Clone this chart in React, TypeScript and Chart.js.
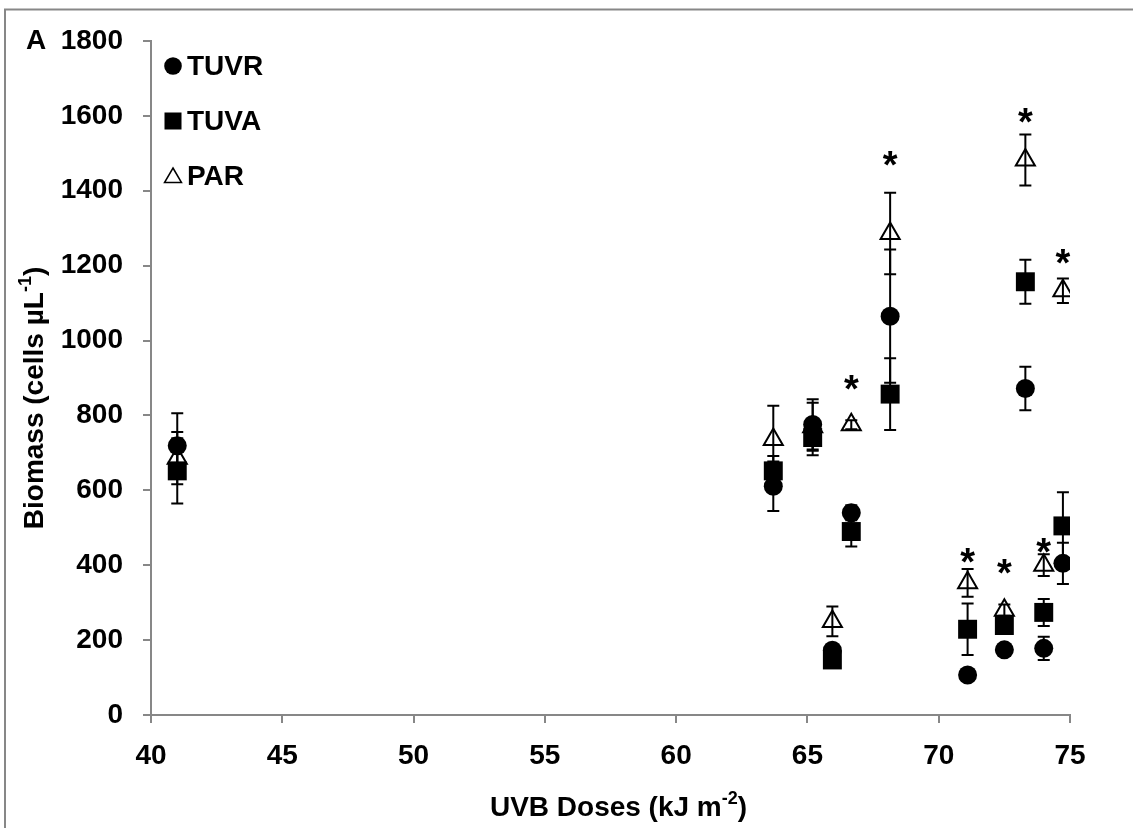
import React, { useEffect, useRef } from "react";
import { Chart, registerables } from "chart.js";

Chart.register(...registerables);

// UVB doses (kJ m-2)
const doses = [41.0, 63.7, 65.2, 65.95, 66.67, 68.15, 71.1, 72.5, 73.3, 74.0, 74.73];
// Biomass (cells µL-1)
const tuvr = [719, 611, 776, 173, 540, 1065, 107, 174, 872, 178, 405];
const tuvrErr = [87, 66, 67, 12, 20, 178, 8, 10, 58, 31, 55];
const tuva = [652, 652, 741, 147, 490, 857, 229, 239, 1157, 274, 505];
const tuvaErr = [87, 40, 47, 15, 40, 96, 69, 15, 59, 36, 90];
const par = [686, 736, 770, 250, 775, 1286, 353, 280, 1482, 400, 1133];
const parErr = [70, 90, 64, 40, 12, 109, 37, 15, 68, 29, 33];
// significance marks
const starDoses = [66.67, 68.15, 71.1, 72.5, 73.3, 74.0, 74.73];
const starLevels = [894, 1491, 432, 403, 1607, 458, 1231];

const seriesNames = ["TUVR", "TUVA", "PAR"];
const xTitle = ["UVB Doses (kJ m", "-2", ")"];
const yTitle = ["Biomass (cells µL", "-1", ")"];
const panelLabel = "A";

const FONT = '"Liberation Sans", Arial, sans-serif';
const AXIS_GRAY = "#878787";

function drawRich(ctx: CanvasRenderingContext2D, parts: string[], cx: number, cy: number) {
  const main = `bold 28px ${FONT}`;
  const sup = `bold 18px ${FONT}`;
  ctx.font = main;
  const w0 = ctx.measureText(parts[0]).width;
  const w2 = ctx.measureText(parts[2]).width;
  ctx.font = sup;
  const w1 = ctx.measureText(parts[1]).width;
  const total = w0 + w1 + w2;
  let x = cx - total / 2;
  ctx.textAlign = "left";
  ctx.textBaseline = "middle";
  ctx.fillStyle = "#000";
  ctx.font = main;
  ctx.fillText(parts[0], x, cy);
  x += w0;
  ctx.font = sup;
  ctx.fillText(parts[1], x, cy - 9);
  x += w1;
  ctx.font = main;
  ctx.fillText(parts[2], x, cy);
}

export default function App() {
  const ref = useRef<HTMLCanvasElement>(null);

  useEffect(() => {
    if (!ref.current) return;

    const errPlugin = {
      id: "errbars",
      afterDatasetsDraw(chart: any) {
        const ctx = chart.ctx as CanvasRenderingContext2D;
        const xs = chart.scales.x;
        const ys = chart.scales.y;
        ctx.save();
        ctx.strokeStyle = "#000";
        ctx.lineWidth = 2;
        const series: [number[], number[]][] = [
          [par, parErr],
          [tuva, tuvaErr],
          [tuvr, tuvrErr],
        ];
        for (const [vals, errs] of series) {
          for (let i = 0; i < doses.length; i++) {
            if (!errs[i]) continue;
            const x = xs.getPixelForValue(doses[i]);
            const yt = ys.getPixelForValue(vals[i] + errs[i]);
            const yb = ys.getPixelForValue(vals[i] - errs[i]);
            ctx.beginPath();
            ctx.moveTo(x, yt);
            ctx.lineTo(x, yb);
            ctx.moveTo(x - 6, yt);
            ctx.lineTo(x + 6, yt);
            ctx.moveTo(x - 6, yb);
            ctx.lineTo(x + 6, yb);
            ctx.stroke();
          }
        }
        ctx.restore();
      },
    };

    const decoPlugin = {
      id: "deco",
      afterDraw(chart: any) {
        const ctx = chart.ctx as CanvasRenderingContext2D;
        const xs = chart.scales.x;
        const ys = chart.scales.y;
        ctx.save();
        // outer frame
        ctx.strokeStyle = AXIS_GRAY;
        ctx.lineWidth = 2;
        ctx.beginPath();
        ctx.moveTo(5, 828);
        ctx.lineTo(5, 9.5);
        ctx.lineTo(1133, 9.5);
        ctx.stroke();

        // stars
        ctx.fillStyle = "#000";
        const sf = 38;
        ctx.font = `bold ${sf}px ${FONT}`;
        ctx.textAlign = "center";
        ctx.textBaseline = "alphabetic";
        for (let i = 0; i < starDoses.length; i++) {
          const x = xs.getPixelForValue(starDoses[i]);
          const y = ys.getPixelForValue(starLevels[i]);
          ctx.fillText("*", x, y + 0.57 * sf);
        }

        // panel label
        ctx.font = `bold 28px ${FONT}`;
        ctx.textAlign = "left";
        ctx.fillText(panelLabel, 26, 49);

        // legend
        const lx = 173;
        const rows = [66, 121, 176];
        ctx.fillStyle = "#000";
        ctx.beginPath();
        ctx.arc(lx, rows[0], 8.8, 0, Math.PI * 2);
        ctx.fill();
        ctx.fillRect(lx - 8.5, rows[1] - 8.5, 17, 17);
        ctx.beginPath();
        ctx.moveTo(lx, rows[2] - 8);
        ctx.lineTo(lx + 8.5, rows[2] + 6.5);
        ctx.lineTo(lx - 8.5, rows[2] + 6.5);
        ctx.closePath();
        ctx.fillStyle = "#fff";
        ctx.fill();
        ctx.strokeStyle = "#000";
        ctx.lineWidth = 1.5;
        ctx.stroke();
        ctx.fillStyle = "#000";
        ctx.font = `bold 28px ${FONT}`;
        ctx.textBaseline = "middle";
        for (let i = 0; i < seriesNames.length; i++) {
          ctx.fillText(seriesNames[i], 187, rows[i] + 1);
        }

        // axis titles
        drawRich(ctx, xTitle, (xs.left + xs.right) / 2 + 8, 808);
        ctx.save();
        ctx.translate(35, 398);
        ctx.rotate(-Math.PI / 2);
        drawRich(ctx, yTitle, 0, 0);
        ctx.restore();

        ctx.restore();
      },
    };

    const tickFont = { family: FONT, size: 28, weight: "bold" as const };
    const plain = (v: any) => String(v);

    const chart = new Chart(ref.current, {
      type: "scatter",
      data: {
        datasets: [
          {
            label: seriesNames[0],
            data: doses.map((d, i) => ({ x: d, y: tuvr[i] })),
            pointStyle: "circle",
            pointRadius: 9.5,
            backgroundColor: "#000",
            borderColor: "#000",
            borderWidth: 0,
          },
          {
            label: seriesNames[1],
            data: doses.map((d, i) => ({ x: d, y: tuva[i] })),
            pointStyle: "rect",
            pointRadius: 13.4,
            backgroundColor: "#000",
            borderColor: "#000",
            borderWidth: 0,
          },
          {
            label: seriesNames[2],
            data: doses.map((d, i) => ({ x: d, y: par[i] })),
            pointStyle: "triangle",
            pointRadius: 11,
            backgroundColor: "#fff",
            borderColor: "#000",
            borderWidth: 2,
          },
        ],
      },
      options: {
        animation: false,
        responsive: false,
        maintainAspectRatio: false,
        layout: { padding: { left: 0, top: 41, right: 63, bottom: 0 } },
        plugins: {
          legend: { display: false },
          tooltip: { enabled: false },
        },
        scales: {
          x: {
            type: "linear",
            min: 40,
            max: 75,
            ticks: { stepSize: 5, color: "#000", font: tickFont, padding: 16, callback: plain },
            grid: { drawOnChartArea: false, drawTicks: true, tickLength: 8, color: AXIS_GRAY, lineWidth: 2 },
            border: { color: AXIS_GRAY, width: 2 },
            afterFit: (s: any) => {
              s.height = 828 - 715;
            },
          },
          y: {
            type: "linear",
            min: 0,
            max: 1800,
            ticks: { stepSize: 200, color: "#000", font: tickFont, padding: 20, callback: plain },
            grid: { drawOnChartArea: false, drawTicks: true, tickLength: 8, color: AXIS_GRAY, lineWidth: 2 },
            border: { color: AXIS_GRAY, width: 2 },
            afterFit: (s: any) => {
              s.width = 151;
            },
          },
        },
      },
      plugins: [errPlugin, decoPlugin],
    });

    return () => chart.destroy();
  }, []);

  return (
    <div style={{ position: "absolute", left: 0, top: 0, width: 1133, height: 828, background: "#fff" }}>
      <canvas ref={ref} width={1133} height={828} style={{ display: "block" }} />
    </div>
  );
}
